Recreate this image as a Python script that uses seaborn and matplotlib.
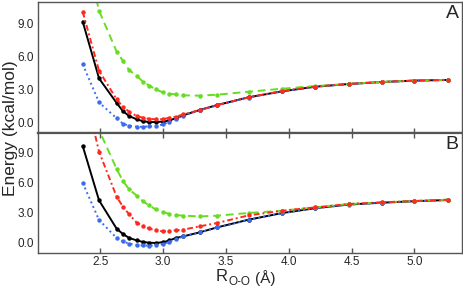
import matplotlib
matplotlib.use("Agg")
import matplotlib.pyplot as plt
import seaborn as sns
import numpy as np

sns.set_style("white")
plt.rcParams['font.family'] = ['Liberation Sans', 'DejaVu Sans']

# O-O distance grid (Angstrom)
r_oo = [2.36, 2.49, 2.63, 2.68, 2.73, 2.79, 2.84, 2.89, 2.94, 3.00, 3.05, 3.10,
        3.16, 3.29, 3.43, 3.68, 3.95, 4.21, 4.48, 4.74, 5.00, 5.27]

# Panel A
a_black = [9.2, 4.0, 1.75, 1.0, 0.55, 0.25, 0.08, 0.0, 0.0, 0.05, 0.15, 0.35,
           0.62, 1.1, 1.56, 2.27, 2.82, 3.24, 3.49, 3.67, 3.80, 3.86]
a_red = [10.1, 4.7, 2.08, 1.4, 0.95, 0.55, 0.4, 0.3, 0.25, 0.27, 0.4, 0.49,
         0.7, 1.1, 1.55, 2.27, 2.85, 3.25, 3.50, 3.68, 3.80, 3.87]
a_blue = [5.3, 1.8, 0.35, -0.15, -0.33, -0.42, -0.43, -0.4, -0.38, -0.22, 0.05, 0.3,
          0.6, 1.08, 1.54, 2.25, 2.82, 3.23, 3.48, 3.66, 3.79, 3.86]
a_green = [16.5, 10.2, 6.46, 5.6, 4.77, 4.22, 3.7, 3.35, 3.0, 2.72, 2.6, 2.54,
           2.45, 2.42, 2.51, 2.78, 3.06, 3.30, 3.50, 3.68, 3.80, 3.87]

# Panel B
b_black = [9.7, 4.26, 1.43, 0.9, 0.5, 0.26, 0.1, 0.03, 0.0, 0.08, 0.25, 0.5,
           0.66, 1.06, 1.56, 2.33, 3.0, 3.48, 3.85, 4.03, 4.18, 4.30]
b_red = [16.0, 9.13, 4.63, 3.63, 2.86, 2.03, 1.7, 1.45, 1.26, 1.16, 1.2, 1.26,
         1.33, 1.66, 2.0, 2.76, 3.23, 3.56, 3.90, 4.06, 4.20, 4.33]
b_blue = [6.0, 2.3, 0.5, 0.15, -0.07, -0.2, -0.25, -0.27, -0.25, -0.1, 0.1, 0.38,
          0.65, 1.05, 1.55, 2.3, 2.98, 3.47, 3.84, 4.02, 4.17, 4.30]
b_green = [18.0, 11.3, 7.4, 6.2, 5.35, 4.73, 4.16, 3.76, 3.36, 3.1, 2.9, 2.8,
           2.73, 2.66, 2.73, 3.0, 3.23, 3.56, 3.90, 4.06, 4.20, 4.33]

y_ticks = [0.0, 3.0, 6.0, 9.0]
x_ticks = [2.5, 3.0, 3.5, 4.0, 4.5, 5.0]

c_black = "#000000"
c_red = "#ff2a1f"
c_blue = "#3b6cf0"
c_green = "#66dd22"
spine_c = "#555555"

fig = plt.figure(figsize=(4.63, 2.87), dpi=100)
axA = fig.add_axes([0.081, 0.5366, 0.917, 0.4564])
axB = fig.add_axes([0.081, 0.1185, 0.917, 0.4181])

def draw(ax, blk, red, blu, grn, label):
    style = dict(marker='o', markersize=3.2, markeredgewidth=0, linewidth=1.4)
    sns.lineplot(x=r_oo, y=blk, ax=ax, color=c_black, linestyle='-', **style)
    sns.lineplot(x=r_oo, y=blu, ax=ax, color=c_blue, linestyle=(0, (1, 1.6)), **style)
    sns.lineplot(x=r_oo, y=grn, ax=ax, color=c_green, linestyle=(0, (4, 2.5)), **style)
    sns.lineplot(x=r_oo, y=red, ax=ax, color=c_red, linestyle=(0, (3, 1.5, 1, 1.5)), **style)
    ax.set_xlim(2.0, 5.38)
    ax.set_ylim(-1.0, 11.0)
    ax.set_yticks(y_ticks)
    ax.set_yticklabels([f"{v:.1f}" for v in y_ticks])
    ax.set_xticks(x_ticks)
    ax.set_xlabel("")
    ax.set_ylabel("")
    ax.tick_params(direction='in', length=3.5, width=1, color=spine_c,
                   labelsize=8.5, pad=2.5, top=True, bottom=True, left=False, right=False)
    for s in ax.spines.values():
        s.set_color(spine_c)
        s.set_linewidth(1.0)
        s.set_visible(True)
    ax.text(0.992, 0.975, label, transform=ax.transAxes, ha='right', va='top',
            fontsize=14)

draw(axA, a_black, a_red, a_blue, a_green, "A")
draw(axB, b_black, b_red, b_blue, b_green, "B")

axA.tick_params(labelbottom=False, top=False)
axA.spines['bottom'].set_linewidth(1.6)
axB.spines['top'].set_linewidth(1.6)
axB.tick_params(top=True)
axB.set_xticklabels([f"{v:.1f}" for v in x_ticks])
axB.tick_params(axis='x', pad=2.5)

fig.text(0.022, 0.555, "Energy (kcal/mol)", rotation=90, ha='center', va='center',
         fontsize=12.5)
# x label built from a main part and a subscript part
fig.text(0.4925, 0.01, "R", ha='right', va='bottom', fontsize=12)
fig.text(0.4925, -0.002, "O-O", ha='left', va='bottom', fontsize=8.5)
fig.text(0.551, 0.004, "(Å)", ha='left', va='bottom', fontsize=11)

fig.savefig("out.png", dpi=100)
